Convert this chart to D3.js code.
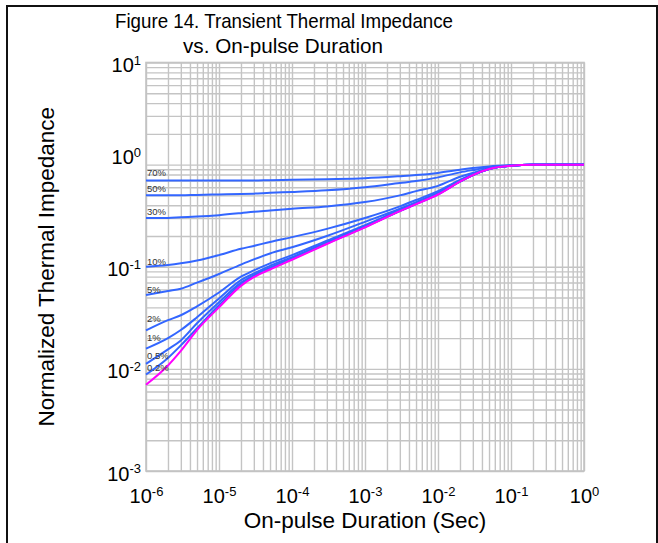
<!DOCTYPE html>
<html>
<head>
<meta charset="utf-8">
<script src="https://cdn.jsdelivr.net/npm/d3@7"></script>
<style>
  body { margin: 0; background: #fff; }
  svg { font-family: "Liberation Sans", Arial, sans-serif; display: block; }
</style>
</head>
<body>
<div id="my_dataviz"></div>
<script>
// pulse durations (sec) shared by every curve
const times = [1e-6, 2e-6, 3e-6, 5e-6, 1e-5, 2e-5, 3e-5, 5e-5, 1e-4, 3e-4, 1e-3, 3e-3, 5e-3, 1e-2, 2e-2, 3e-2, 5e-2, 1e-1, 2e-1, 1];

// normalized impedance per duty cycle
const duty70 = [0.70, 0.70, 0.70, 0.70, 0.70, 0.70, 0.70, 0.705, 0.71, 0.72, 0.735, 0.77, 0.79, 0.83, 0.89, 0.925, 0.96, 0.985, 0.997, 1.0];
const duty50 = [0.50, 0.50, 0.50, 0.505, 0.51, 0.515, 0.52, 0.53, 0.54, 0.56, 0.60, 0.66, 0.69, 0.75, 0.84, 0.885, 0.94, 0.98, 0.996, 1.0];
const duty30 = [0.30, 0.30, 0.305, 0.31, 0.32, 0.335, 0.345, 0.355, 0.37, 0.39, 0.43, 0.50, 0.55, 0.62, 0.76, 0.83, 0.92, 0.978, 0.996, 1.0];
const duty10 = [0.100, 0.104, 0.108, 0.115, 0.130, 0.150, 0.160, 0.175, 0.195, 0.235, 0.30, 0.39, 0.45, 0.55, 0.71, 0.80, 0.91, 0.977, 0.996, 1.0];
const duty5 = [0.053, 0.058, 0.061, 0.070, 0.085, 0.105, 0.118, 0.135, 0.155, 0.20, 0.275, 0.37, 0.43, 0.535, 0.70, 0.795, 0.907, 0.976, 0.996, 1.0];
const duty2 = [0.0238, 0.030, 0.0335, 0.041, 0.056, 0.080, 0.092, 0.108, 0.130, 0.180, 0.256, 0.36, 0.42, 0.525, 0.69, 0.792, 0.906, 0.975, 0.995, 1.0];
const duty1 = [0.0158, 0.020, 0.024, 0.032, 0.049, 0.074, 0.086, 0.102, 0.124, 0.174, 0.25, 0.355, 0.415, 0.52, 0.685, 0.791, 0.905, 0.975, 0.995, 1.0];
const duty05 = [0.0112, 0.0155, 0.019, 0.028, 0.045, 0.070, 0.083, 0.098, 0.121, 0.171, 0.247, 0.352, 0.413, 0.515, 0.683, 0.79, 0.905, 0.975, 0.995, 1.0];
const duty02 = [0.0088, 0.0128, 0.017, 0.025, 0.042, 0.067, 0.081, 0.096, 0.119, 0.169, 0.245, 0.351, 0.411, 0.512, 0.681, 0.79, 0.905, 0.975, 0.995, 1.0];
const singlePulse = [0.0070, 0.0108, 0.015, 0.024, 0.040, 0.065, 0.079, 0.094, 0.117, 0.167, 0.243, 0.35, 0.41, 0.51, 0.68, 0.79, 0.905, 0.975, 0.995, 1.0];

const seriesNames = ["70%", "50%", "30%", "10%", "5%", "2%", "1%", "0.5%", "0.2%", "single"];
const seriesValues = [duty70, duty50, duty30, duty10, duty5, duty2, duty1, duty05, duty02, singlePulse];

// tick labels: exponents of the decades
const xExponents = [-6, -5, -4, -3, -2, -1, 0];
const yExponents = [-3, -2, -1, 0, 1];

// set the dimensions and margins of the graph
const margin = {top: 62.5, right: 74, bottom: 72, left: 146},
    fullW = 658, fullH = 543,
    width = fullW - margin.left - margin.right,
    height = fullH - margin.top - margin.bottom;

const root = d3.select("#my_dataviz")
  .append("svg")
    .attr("width", fullW)
    .attr("height", fullH);

// outer frame (no bottom edge)
root.append("path")
    .attr("d", "M7,543 V6 H657 V543")
    .attr("fill", "none")
    .attr("stroke", "#111")
    .attr("stroke-width", 2);

const svg = root.append("g")
    .attr("transform", `translate(${margin.left},${margin.top})`);

const x = d3.scaleLog().domain([1e-6, 1]).range([0, width]);
const y = d3.scaleLog().domain([1e-3, 10]).range([height, 0]);

// every 1..9 step of each decade for the grid
const gridVals = (lo, hi) => {
  const v = [];
  for (let e = lo; e < hi; e++) for (let k = 1; k <= 9; k++) v.push(k * Math.pow(10, e));
  v.push(Math.pow(10, hi));
  return v;
};

const gridColor = "#c4c4c4";

// vertical grid
svg.append("g")
    .attr("class", "grid-x")
    .attr("transform", `translate(0,${height})`)
    .call(d3.axisBottom(x).tickValues(gridVals(-6, 0)).tickSize(-height).tickFormat(""))
    .call(g => g.select(".domain").remove())
    .selectAll("line")
    .attr("stroke", gridColor)
    .attr("stroke-width", 1.4);

// horizontal grid
svg.append("g")
    .attr("class", "grid-y")
    .call(d3.axisLeft(y).tickValues(gridVals(-3, 1)).tickSize(-width).tickFormat(""))
    .call(g => g.select(".domain").remove())
    .selectAll("line")
    .attr("stroke", gridColor)
    .attr("stroke-width", 1.4);

// plot border
svg.append("rect")
    .attr("width", width)
    .attr("height", height)
    .attr("fill", "none")
    .attr("stroke", gridColor)
    .attr("stroke-width", 1.6);

// power-of-ten labels
function powLabel(sel) {
  sel.each(function(d) {
    const t = d3.select(this).text(null);
    t.append("tspan").text("10");
    t.append("tspan").attr("dy", "-0.55em").attr("font-size", "13px").text(Math.round(Math.log10(d)));
  });
}

// X axis labels
svg.append("g")
    .attr("transform", `translate(0,${height})`)
    .call(d3.axisBottom(x).tickValues(xExponents.map(e => Math.pow(10, e))).tickSize(0).tickPadding(0))
    .call(g => g.select(".domain").remove())
    .selectAll("text")
    .attr("y", 32)
    .attr("dy", 0)
    .attr("font-size", "20px")
    .attr("fill", "#000")
    .attr("font-family", "Liberation Sans, Arial, sans-serif")
    .call(powLabel);

// Y axis labels
svg.append("g")
    .call(d3.axisLeft(y).tickValues(yExponents.map(e => Math.pow(10, e))).tickSize(0).tickPadding(5))
    .call(g => g.select(".domain").remove())
    .selectAll("text")
    .attr("dy", d => d === 1 ? "-0.05em" : "0.45em")
    .attr("font-size", "20px")
    .attr("fill", "#000")
    .attr("font-family", "Liberation Sans, Arial, sans-serif")
    .call(powLabel);

// curves
const line = d3.line()
    .x(d => x(d[0]))
    .y(d => y(d[1]))
    .curve(d3.curveMonotoneX);

svg.selectAll("path.curve")
    .data(seriesValues)
    .join("path")
    .attr("class", "curve")
    .attr("fill", "none")
    .attr("stroke", (d, i) => seriesNames[i] === "single" ? "#ff00ff" : "#3366ff")
    .attr("stroke-width", 2)
    .attr("d", d => line(times.map((t, j) => [t, d[j]])));

// duty cycle labels at the left end
const labelLift = {"70%": 4, "50%": 3, "30%": 3, "10%": 1.5, "5%": 2, "2%": 8, "1%": 8, "0.5%": 5, "0.2%": 4};
svg.selectAll("text.duty")
    .data(seriesNames.filter(n => n !== "single"))
    .join("text")
    .attr("class", "duty")
    .attr("x", 1)
    .attr("y", (d, i) => y(seriesValues[i][0]) - labelLift[d])
    .attr("font-size", "9.5px")
    .attr("fill", "#333")
    .text(d => d);

// title (condensed like the original)
root.append("text")
    .attr("x", 115)
    .attr("y", 28)
    .attr("font-size", "21px")
    .attr("textLength", 338)
    .attr("lengthAdjust", "spacingAndGlyphs")
    .text("Figure 14. Transient Thermal Impedance");
root.append("text")
    .attr("x", 183)
    .attr("y", 52.5)
    .attr("font-size", "21px")
    .attr("textLength", 200)
    .attr("lengthAdjust", "spacingAndGlyphs")
    .text("vs. On-pulse Duration");

// axis titles
root.append("text")
    .attr("x", margin.left + width / 2)
    .attr("y", 528)
    .attr("text-anchor", "middle")
    .attr("font-size", "22.5px")
    .text("On-pulse Duration (Sec)");

root.append("text")
    .attr("transform", `translate(54,${margin.top + height / 2}) rotate(-90)`)
    .attr("text-anchor", "middle")
    .attr("font-size", "22.5px")
    .text("Normalized Thermal Impedance");
</script>
</body>
</html>
